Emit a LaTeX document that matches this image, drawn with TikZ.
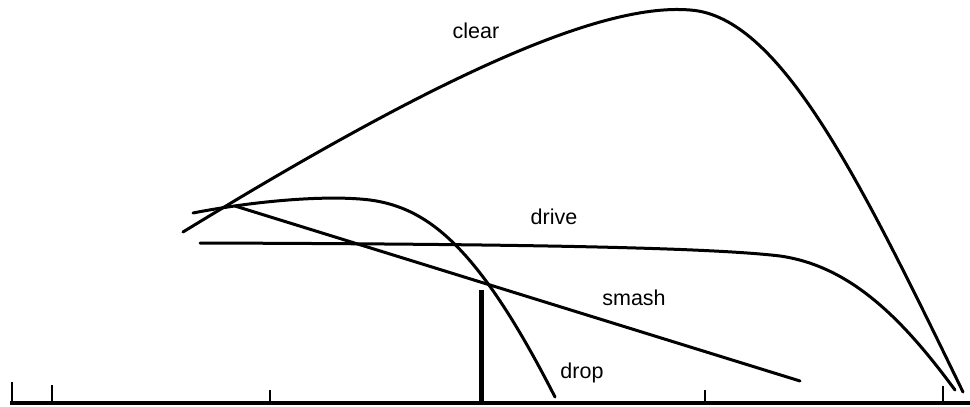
\documentclass[tikz,border=0pt]{standalone}
\usepackage{fontspec}
\setmainfont{Liberation Sans}
\usepackage{tikz}
\usetikzlibrary{positioning}

\begin{document}
\begin{tikzpicture}[x=1pt, y=-1pt, line cap=round, line join=round]
    % Styles
    \tikzstyle{shot}=[line width=3pt, black]
    \tikzstyle{tick}=[line width=2pt, black, line cap=butt]
    \tikzstyle{label}=[font=\fontsize{21.5}{24}\selectfont, inner sep=0pt]

    \useasboundingbox (0,0) rectangle (970,407);

    % Court
    \coordinate (courtL) at (10,403);
    \coordinate (courtR) at (970,403);
    \draw [line width=4.5pt, line cap=butt] (courtL) -- (courtR);
    \foreach \x/\h in {12/382, 52/385, 270/390, 705/390, 943/386}
        \draw [tick] (\x,403) -- (\x,\h);

    % Net
    \coordinate (netbase) at (481,403);
    \coordinate (nettop) at (481,290);
    \draw [line width=5pt, line cap=butt] (netbase) -- (nettop);

    % Clear
    \coordinate (clearstart) at (183,232);
    \coordinate (clearpeak) at (690,10);
    \coordinate (clearend) at (963,392);
    \draw [shot] (clearstart) .. controls (420,87) and (595,2) .. (clearpeak)
        .. controls (780,16) and (860,180) .. (clearend);

    % Drive
    \coordinate (drivestart) at (200,243);
    \coordinate (drivebend) at (780,256);
    \coordinate (driveend) at (955,390);
    \draw [shot] (drivestart) .. controls (500,244) and (705,247) .. (drivebend)
        .. controls (850,266) and (902,318) .. (driveend);

    % Smash
    \coordinate (smashstart) at (235,206);
    \coordinate (smashend) at (800,381);
    \draw [shot] (smashstart) -- (smashend);

    % Drop
    \coordinate (dropstart) at (193,213);
    \coordinate (droptop) at (370,200);
    \coordinate (dropend) at (555,397);
    \draw [shot] (dropstart) .. controls (260,200) and (330,195) .. (droptop)
        .. controls (430,208) and (480,250) .. (dropend);

    % Labels
    \node (clear) [label] at (476,31) {clear};
    \node (drive) [label] at (554,217) {drive};
    \node (smash) [label] at (634,298) {smash};
    \node (drop) [label] at (582,373) {drop};
\end{tikzpicture}
\end{document}
